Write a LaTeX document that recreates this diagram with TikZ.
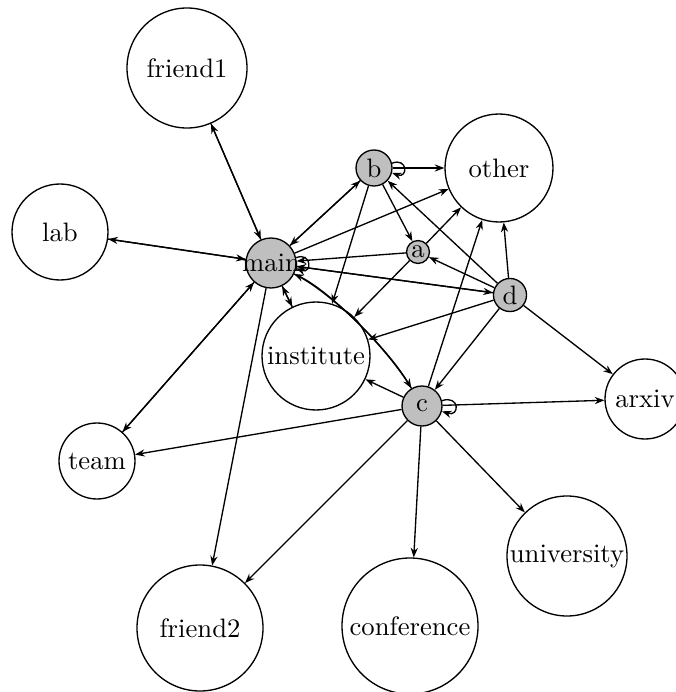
\documentclass[tikz,border=0pt]{standalone}
\usetikzlibrary{arrows.meta}
\begin{document}
\begin{tikzpicture}[x=0.375pt,y=-0.375pt,
  v/.style={circle,draw,line width=0.5pt,inner sep=0pt,fill=white},
  g/.style={v,fill=black!25},
  e/.style={line width=0.5pt,-{Stealth[length=3.6pt,width=2.7pt]}},
]
\useasboundingbox (0,0) rectangle (675,692);
% nodes
\node[v,minimum size=45pt]    (friend1)    at (187,68)  {\makebox[0pt]{friend1}};
\node[v,minimum size=36pt]    (lab)        at (60,232)  {\makebox[0pt]{lab}};
\node[v,minimum size=40.5pt]  (other)      at (499,168) {\makebox[0pt]{other}};
\node[v,minimum size=40.5pt]  (institute)  at (316,356) {\makebox[0pt]{institute}};
\node[v,minimum size=30pt]    (arxiv)      at (645,399) {\makebox[0pt]{arxiv}};
\node[v,minimum size=28.5pt]  (team)       at (97,461)  {\makebox[0pt]{team}};
\node[v,minimum size=47.25pt] (friend2)    at (200,628) {\makebox[0pt]{friend2}};
\node[v,minimum size=51pt]    (conference) at (410,626) {\makebox[0pt]{conference}};
\node[v,minimum size=45pt]    (university) at (567,556) {\makebox[0pt]{university}};
\node[g,minimum size=18.75pt] (main)       at (271,263) {\makebox[0pt]{main}};
\node[g,minimum size=13.5pt]  (b)          at (374,168) {\makebox[0pt]{b}};
\node[g,minimum size=8.6pt]   (a)          at (418,252) {\makebox[0pt]{a}};
\node[g,minimum size=12.4pt]  (d)          at (510,295) {\makebox[0pt]{d}};
\node[g,minimum size=15pt]    (c)          at (422,406) {\makebox[0pt]{c}};
% edges of main
\draw[e] (main) -- (friend1); \draw[e] (friend1) -- (main);
\draw[e] (main) -- (lab);     \draw[e] (lab) -- (main);
\draw[e] (main) -- (team);    \draw[e] (team) -- (main);
\draw[e] (main) -- (friend2);
\draw[e] (main) -- (b);       \draw[e] (b) -- (main);
\draw[e] (main) -- (institute); \draw[e] (institute) -- (main);
\draw[e] (main) -- (other);
\draw[e] (main) -- (d);       \draw[e] (d) -- (main);
\draw[e] (a) -- (main);
\draw[e] (main) .. controls (328,290) and (386,346) .. (c);
\draw[e] (c) .. controls (386,346) and (328,290) .. (main);
\draw[e] (main.12) .. controls +(16,-6) and +(16,6) .. (main.-12);
% edges of b
\draw[e] (b) -- (other);
\draw[e] (b) -- (a);
\draw[e] (b) -- (institute);
\draw[e] (b.15) .. controls +(16,-6) and +(16,6) .. (b.-15);
% edges of a
\draw[e] (a) -- (other);
\draw[e] (a) -- (institute);
% edges of d
\draw[e] (d) -- (b);
\draw[e] (d) -- (a);
\draw[e] (d) -- (other);
\draw[e] (d) -- (institute);
\draw[e] (d) -- (c);
\draw[e] (d) -- (arxiv);
% edges of c
\draw[e] (c.15) .. controls +(18,-6) and +(18,6) .. (c.-15);
\draw[e] (c) -- (institute);
\draw[e] (c) -- (other);
\draw[e] (c) -- (arxiv);
\draw[e] (c) -- (team);
\draw[e] (c) -- (friend2);
\draw[e] (c) -- (conference);
\draw[e] (c) -- (university);
\end{tikzpicture}
\end{document}
